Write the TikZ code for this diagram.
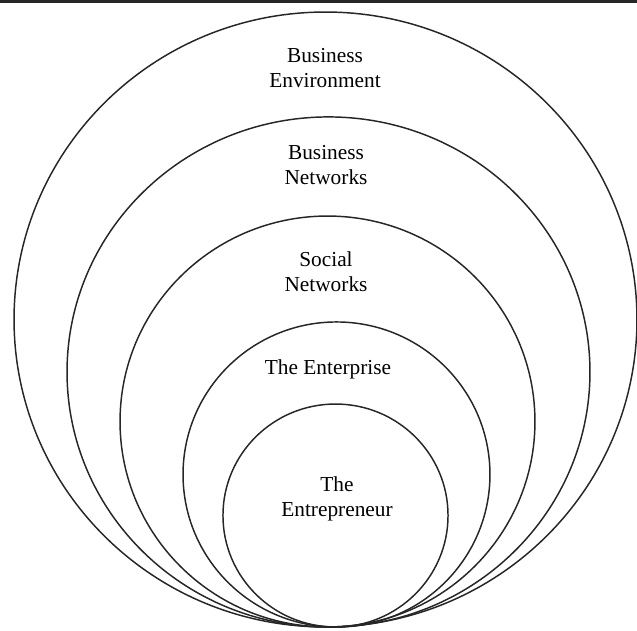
\documentclass[tikz,border=0pt]{standalone}
\usepackage{fontspec}
\setmainfont{Liberation Serif}

\begin{document}
\begin{tikzpicture}[x=0.75pt, y=-0.75pt]

\tikzstyle{ring} = [draw=black!85, line width=1.1pt]
\tikzstyle{layer} = [align=center, inner sep=0pt,
font=\fontsize{16}{18.75}\selectfont]

\useasboundingbox (0,0) rectangle (637,631);
\fill [black!85] (0,0) rectangle (637,3);

% centres of the nested rings, all touching at the bottom
\coordinate (env-c) at (325.5,319.5);
\coordinate (bnet-c) at (328.5,372);
\coordinate (snet-c) at (327.5,421.5);
\coordinate (ent-c) at (336.5,474.5);
\coordinate (self-c) at (335.5,515.5);

\draw [ring] (env-c) ellipse [x radius=233.6pt, y radius=230.6pt];
\draw [ring] (bnet-c) ellipse [x radius=196.1pt, y radius=191.3pt];
\draw [ring] (snet-c) ellipse [x radius=155.6pt, y radius=154.1pt];
\draw [ring] (ent-c) ellipse [x radius=115.1pt, y radius=114.4pt];
\draw [ring] (self-c) ellipse [x radius=84.4pt, y radius=83.6pt];

\node [layer] (env) at (325,68) {Business\\Environment};
\node [layer] (bnet) at (326,165) {Business\\Networks};
\node [layer] (snet) at (326,272) {Social\\Networks};
\node [layer] (ent) at (328,369) {The Enterprise};
\node [layer] (self) at (337,499) {The\\Entrepreneur};
\end{tikzpicture}
\end{document}
